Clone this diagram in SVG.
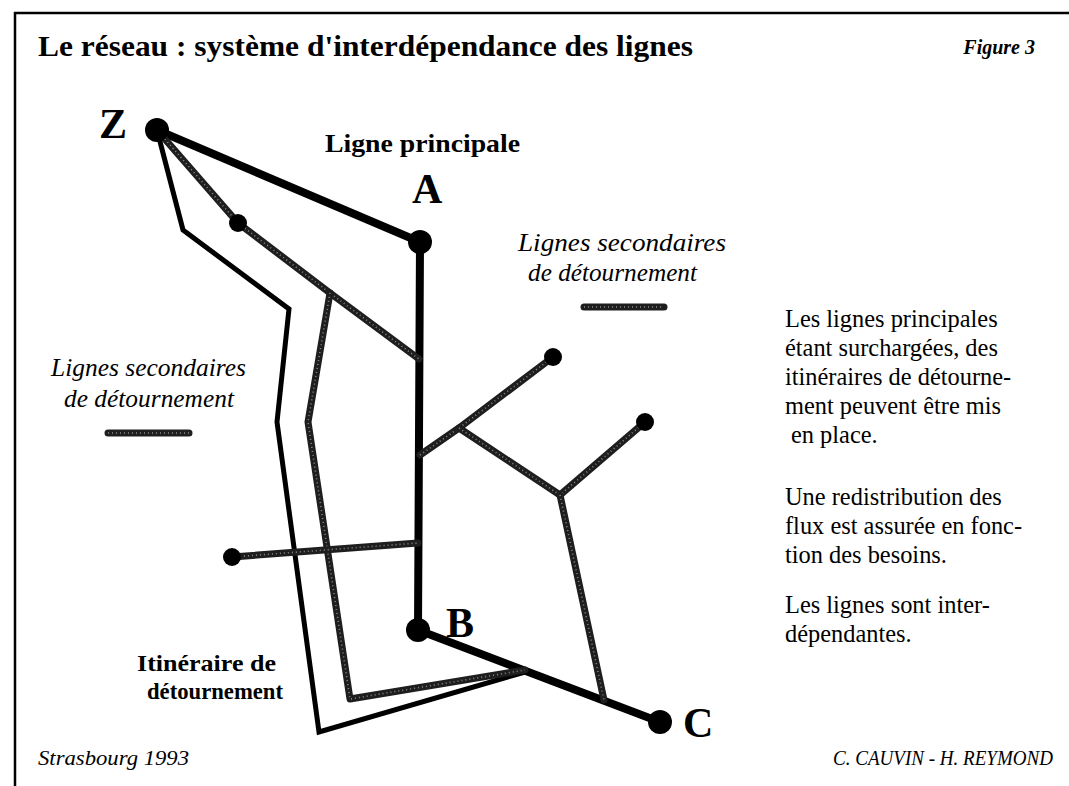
<svg xmlns="http://www.w3.org/2000/svg" xmlns:xlink="http://www.w3.org/1999/xlink" width="1069" height="786" viewBox="0 0 1069 786">
<style>
.frame{stroke:#000;stroke-width:2.5;fill:none}
.main{stroke:#000;stroke-width:8;fill:none;stroke-linejoin:round;stroke-linecap:round}
.det{stroke:#000;stroke-width:5;fill:none;stroke-linejoin:miter}
.sec{stroke:#1e1e1e;stroke-width:7;fill:none;stroke-linejoin:round;stroke-linecap:round}
.tex{stroke:#8a8a8a;stroke-width:1.6;fill:none;stroke-dasharray:1 3}
.dot{fill:#000}
.bold{font-family:"Liberation Serif",serif;font-weight:bold;fill:#000}
.ital{font-family:"Liberation Serif",serif;font-style:italic;fill:#000}
.reg{font-family:"Liberation Serif",serif;fill:#000}
.big{font-family:"Liberation Serif",serif;font-weight:bold;font-size:42px;fill:#000}
</style>
<defs>
<path id="gZ" d="M157,130 L238,223 L330,293 L419,359"/>
<path id="gDet" d="M330,293 L308,422 L350,699 L525,670"/>
<path id="gH" d="M232,557 L418,543"/>
<path id="gB1" d="M420,455 L459,428 L553,357"/>
<path id="gB2" d="M459,428 L560,495 L645,422"/>
<path id="gB3" d="M560,495 L604,700"/>
<path id="leg1" d="M108,433 L189,433"/>
<path id="leg2" d="M584,307 L664,307"/>
</defs>
<rect width="1069" height="786" fill="#fff"/>
<g id="frame">
<line class="frame" x1="14" y1="13" x2="1069" y2="13"/>
<line class="frame" x1="15" y1="12" x2="15" y2="786"/>
</g>
<g id="title">
<text class="bold" x="38" y="56" font-size="30" textLength="655" lengthAdjust="spacingAndGlyphs">Le réseau : système d'interdépendance des lignes</text>
<text class="bold" x="1035" y="54" font-size="20" font-style="italic" text-anchor="end">Figure 3</text>
</g>
<g id="connectors">
<path class="main" d="M157,130 L420,242 L418,630 L660,722"/>
<path class="det" d="M157,130 L183,230 L289,309 L277,422 L319,732 L525,672"/>
<use xlink:href="#gZ" class="sec"/><use xlink:href="#gZ" class="tex"/>
<use xlink:href="#gDet" class="sec"/><use xlink:href="#gDet" class="tex"/>
<use xlink:href="#gH" class="sec"/><use xlink:href="#gH" class="tex"/>
<use xlink:href="#gB1" class="sec"/><use xlink:href="#gB1" class="tex"/>
<use xlink:href="#gB2" class="sec"/><use xlink:href="#gB2" class="tex"/>
<use xlink:href="#gB3" class="sec"/><use xlink:href="#gB3" class="tex"/>
</g>
<g id="node-Z"><circle class="dot" cx="157" cy="130" r="12"/><text class="big" x="99" y="138" font-size="40">Z</text></g>
<g id="node-A"><circle class="dot" cx="420" cy="242" r="12"/><text class="big" x="412" y="203">A</text></g>
<g id="node-B"><circle class="dot" cx="418" cy="630" r="12"/><text class="big" x="446" y="637">B</text></g>
<g id="node-C"><circle class="dot" cx="660" cy="722" r="12"/><text class="big" x="683" y="737">C</text></g>
<g id="node-s1"><circle class="dot" cx="238" cy="223" r="9"/></g>
<g id="node-s2"><circle class="dot" cx="553" cy="357" r="9"/></g>
<g id="node-s3"><circle class="dot" cx="645" cy="422" r="9"/></g>
<g id="node-s4"><circle class="dot" cx="232" cy="557" r="9"/></g>
<g id="label-principale"><text class="bold" x="325" y="152" font-size="26" textLength="195" lengthAdjust="spacingAndGlyphs">Ligne principale</text></g>
<g id="legend-right">
<text class="ital" x="518" y="251" font-size="25" textLength="208" lengthAdjust="spacingAndGlyphs">Lignes secondaires</text>
<text class="ital" x="528" y="281" font-size="25" textLength="169" lengthAdjust="spacingAndGlyphs">de détournement</text>
<use xlink:href="#leg2" class="sec"/><use xlink:href="#leg2" class="tex"/>
</g>
<g id="legend-left">
<text class="ital" x="51" y="376" font-size="25" textLength="195" lengthAdjust="spacingAndGlyphs">Lignes secondaires</text>
<text class="ital" x="64" y="407" font-size="25" textLength="170" lengthAdjust="spacingAndGlyphs">de détournement</text>
<use xlink:href="#leg1" class="sec"/><use xlink:href="#leg1" class="tex"/>
</g>
<g id="label-itineraire">
<text class="bold" x="137" y="671" font-size="24" textLength="139" lengthAdjust="spacingAndGlyphs">Itinéraire de</text>
<text class="bold" x="147" y="699" font-size="24" textLength="136" lengthAdjust="spacingAndGlyphs">détournement</text>
</g>
<g id="explanation" class="reg" font-size="24.4">
<text x="785" y="327">Les lignes principales</text>
<text x="785" y="356">étant surchargées, des</text>
<text x="785" y="385">itinéraires de détourne-</text>
<text x="785" y="414">ment peuvent être mis</text>
<text x="791" y="443">en place.</text>
<text x="785" y="505">Une redistribution des</text>
<text x="785" y="534">flux est assurée en fonc-</text>
<text x="785" y="563">tion des besoins.</text>
<text x="785" y="613">Les lignes sont inter-</text>
<text x="785" y="642">dépendantes.</text>
</g>
<g id="footer">
<text class="ital" x="38" y="765" font-size="20" textLength="151" lengthAdjust="spacingAndGlyphs">Strasbourg 1993</text>
<text class="ital" x="833" y="765" font-size="20" textLength="220" lengthAdjust="spacingAndGlyphs">C. CAUVIN - H. REYMOND</text>
</g>
</svg>
